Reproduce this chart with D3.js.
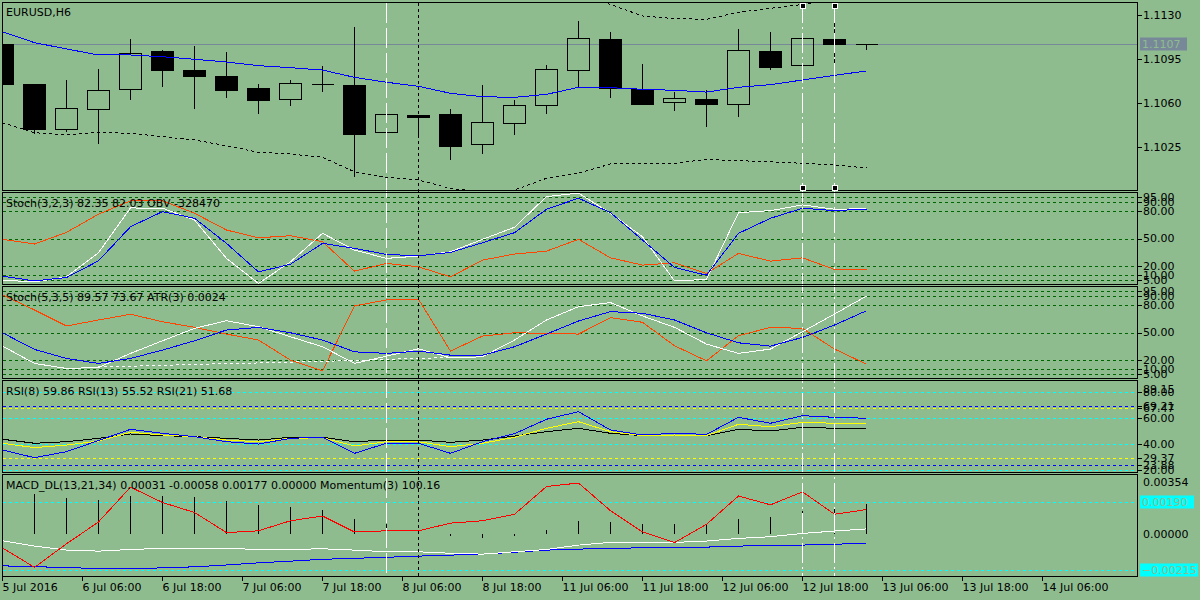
<!DOCTYPE html>
<html><head><meta charset="utf-8">
<script src="https://cdn.jsdelivr.net/npm/d3@7"></script>
<style>
html,body{margin:0;padding:0;background:#8fbc8f;}
svg{display:block;font-family:"DejaVu Sans",sans-serif;font-size:11px;}
</style></head><body>
<svg id="c" width="1200" height="600"></svg>
<script>
// ---------------- DATA ----------------
const openP  = [1.11069,1.10751,1.10393,1.10552,1.10711,1.11014,1.10862,1.10815,1.10719,1.10632,1.10751,1.10743,1.10369,1.10508,1.10512,1.10274,1.10441,1.10584,1.10862,1.11109,1.10711,1.10608,1.10632,1.10592,1.11014,1.10902,1.11109,1.11069];
const highP  = [1.11090,1.10759,1.10791,1.10878,1.11117,1.11030,1.11061,1.11014,1.10759,1.10791,1.10902,1.11212,1.10600,1.10508,1.10560,1.10751,1.10632,1.10910,1.11260,1.11173,1.10918,1.10695,1.10711,1.11197,1.11173,1.11157,1.11292,1.11069];
const lowP   = [1.10720,1.10361,1.10377,1.10282,1.10632,1.10735,1.10560,1.10648,1.10520,1.10584,1.10695,1.10019,1.10298,1.10329,1.10155,1.10202,1.10353,1.10520,1.10735,1.10648,1.10592,1.10544,1.10417,1.10497,1.10870,1.10902,1.10878,1.11030];
const closeP = [1.10751,1.10393,1.10560,1.10703,1.10998,1.10862,1.10815,1.10703,1.10624,1.10759,1.10751,1.10353,1.10512,1.10492,1.10258,1.10449,1.10584,1.10870,1.11117,1.10719,1.10592,1.10640,1.10592,1.11022,1.10886,1.11117,1.11069,1.11069];
const maMid  = [1.11167,1.11080,1.11030,1.10982,1.10982,1.10968,1.10948,1.10926,1.10897,1.10881,1.10862,1.10804,1.10765,1.10733,1.10677,1.10650,1.10645,1.10669,1.10725,1.10722,1.10709,1.10701,1.10687,1.10725,1.10746,1.10783,1.10820,1.10855];
const bandLow= [1.10443,1.10364,1.10345,1.10367,1.10359,1.10332,1.10306,1.10260,1.10208,1.10194,1.10168,1.10053,1.10009,1.09987,1.09921,1.09892,1.09908,1.10001,1.10041,1.10115,1.10120,1.10120,1.10152,1.10141,1.10133,1.10120,1.10107,1.10083];
const bandUp = [null,null,null,null,null,null,null,null,null,null,null,null,null,null,null,null,null,null,1.11450,1.11384,1.11292,1.11271,1.11266,1.11321,1.11353,1.11384,1.11419,1.11435];
const lastPrice = 1.1107;
const priceTicks = [1.1130,1.1095,1.1060,1.1025];

const st1Main   = [4.7,2.8,8.3,34.5,83.2,82.9,70.1,28.4,1.1,24.7,55.6,37.4,28.4,30.9,35.6,49.1,62.2,95.6,99.3,77.5,51.9,3.9,5.5,78.1,80.3,86.5,81.8,82.35];
const st1Signal = [9.1,3.9,7.6,25.7,62.8,79.2,72.0,44.7,13.7,22.1,44.7,39.3,32.7,31.2,34.9,45.4,56.3,81.8,93.8,78.1,48.3,18.5,10.1,55.6,72.0,82.9,80.3,82.03];
const obvNorm   = [49.1,44.0,56.7,76.4,90.9,90.9,77.5,59.2,50.8,53.0,46.5,14.5,22.9,19.2,8.3,26.5,33.1,36.3,49.1,29.0,21.1,23.6,12.0,33.8,25.4,29.0,16.4,16.4];

const st2Main   = [35.2,16.4,10.9,12.0,27.3,41.0,54.5,62.8,56.3,45.4,34.5,16.4,24.3,32.3,22.5,23.6,41.8,63.6,78.1,82.5,68.0,55.6,37.4,27.3,32.0,50.8,70.1,89.57];
const st2Signal = [49.7,31.6,21.8,16.4,21.8,30.9,41.0,52.7,55.6,49.7,41.8,29.0,27.3,29.8,25.4,25.4,34.5,48.3,62.5,72.7,70.9,63.6,49.7,38.8,35.2,44.7,58.1,73.67];
const st2Dash   = [null,null,null,12.7,13.4,14.3,15.3,16.1,16.9,17.8,18.7,19.6,20.7,22.1,22.5,null,null,null,null,null,null,null,null,null,null,null,null,null];
const atrNorm   = [90.9,74.5,57.1,63.6,69.8,61.7,55.6,48.3,41.8,20.0,8.3,78.9,85.4,86.2,29.8,46.1,49.7,49.1,48.3,66.1,61.1,35.6,19.2,46.5,55.6,54.5,32.0,15.6];
const stochLevels = [95,90,80,50,20,10,5];

const rsi8  = [35.3,29.3,34.0,42.6,51.3,48.2,45.6,41.7,39.9,44.3,45.3,32.7,40.5,40.5,32.7,41.7,47.9,59.1,65.0,50.8,46.9,48.2,47.4,60.6,56.0,61.9,60.6,59.86];
const rsi13 = [40.5,37.1,39.1,42.2,49.0,46.9,45.6,43.0,41.7,44.3,44.8,38.4,41.7,41.7,37.8,40.5,45.1,52.1,57.2,49.5,46.4,46.9,46.4,55.2,53.3,56.7,56.0,55.52];
const rsi21 = [43.6,40.5,41.7,44.3,47.7,46.4,45.6,44.3,43.0,45.1,45.1,41.7,43.0,43.0,41.2,43.0,46.1,49.5,52.1,48.2,46.4,46.9,46.4,51.3,50.0,52.9,52.1,51.68];
const rsiCyanLevels   = [80,60,40,20];
const rsiBlueLevels   = [69.21,23.88];
const rsiYellowLevels = [67.47,29.37];
const rsiMaxLabel = 89.15;

const macdHist   = [0.00235,0.00239,0.00215,0.00203,0.00227,0.00227,0.00220,0.00197,0.00173,0.00163,0.00144,0.00090,0.00060,0.00006,-0.00010,-0.00022,-0.00012,0.00024,0.00080,0.00074,0.00060,0.00060,0.00060,0.00090,0.00103,0.00138,0.00160,0.00177];
const macdMain   = [-0.00040,-0.00072,-0.00096,-0.00102,-0.00092,-0.00086,-0.00086,-0.00086,-0.00092,-0.00092,-0.00088,-0.00096,-0.00106,-0.00106,-0.00115,-0.00120,-0.00106,-0.00092,-0.00066,-0.00050,-0.00050,-0.00050,-0.00042,-0.00026,-0.00016,0.00004,0.00018,0.00031];
const macdSignal = [-0.00190,-0.00196,-0.00199,-0.00208,-0.00208,-0.00202,-0.00196,-0.00185,-0.00172,-0.00162,-0.00151,-0.00145,-0.00139,-0.00132,-0.00126,-0.00120,-0.00109,-0.00096,-0.00090,-0.00086,-0.00082,-0.00080,-0.00078,-0.00072,-0.00068,-0.00066,-0.00060,-0.00058];
const momentum   = [99.51,99.18,99.58,99.95,100.54,100.28,100.11,99.77,99.80,99.97,100.05,99.78,99.80,99.80,99.93,99.97,100.08,100.55,100.61,100.14,99.78,99.60,99.91,100.39,100.24,100.46,100.08,100.16];
const macdLevels = [0.00190,-0.00215];
const macdMaxLabel = 0.00354;

const timeLabels  = ["5 Jul 2016","6 Jul 06:00","6 Jul 18:00","7 Jul 06:00","7 Jul 18:00","8 Jul 06:00","8 Jul 18:00","11 Jul 06:00","11 Jul 18:00","12 Jul 06:00","12 Jul 18:00","13 Jul 06:00","13 Jul 18:00","14 Jul 06:00"];
const timeTickIdx = [0,2.5,5,7.5,10,12.5,15,17.5,20,22.5,25,27.5,30,32.5];
const whiteVLines = [12,25,26];
const blackVLines = [13];
const handleLines = [25,26];

const headers = ["EURUSD,H6",
  "Stoch(3,2,3) 82.35 82.03 OBV -328470",
  "Stoch(5,3,5) 89.57 73.67 ATR(3) 0.0024",
  "RSI(8) 59.86 RSI(13) 55.52 RSI(21) 51.68",
  "MACD_DL(13,21,34) 0.00031 -0.00058 0.00177 0.00000 Momentum(3) 100.16"];

// ---------------- LAYOUT ----------------
const BG = "#8fbc8f", LVL = "#006400";
const L = 2.5, R = 1137.5;
const panels = [
  {top:2.5,   bottom:190.5},
  {top:192.5, bottom:284.5},
  {top:286.5, bottom:378.5},
  {top:380.5, bottom:472.5},
  {top:474.5, bottom:576.5}
];
const svg = d3.select("#c");
svg.append("rect").attr("width",1200).attr("height",600).attr("fill",BG);
const defs = svg.append("defs");
const crisp = v => Math.round(v) + 0.5;

const x = d3.scaleLinear().domain([0,27]).range([2.5,866.5]);
const yMain = d3.scaleLinear().domain([1.1025,1.1130]).range([147,15]);
const yS1 = d3.scaleLinear().domain([0,100]).range([panels[1].bottom,panels[1].top]);
const yS2 = d3.scaleLinear().domain([0,100]).range([panels[2].bottom,panels[2].top]);
const yR  = d3.scaleLinear().domain([20,80]).range([469.7,392.3]);
const yM  = d3.scaleLinear().domain([-0.00215,0.0019]).range([570,502.3]);
const yMom= d3.scaleLinear().domain([99,101]).range([578,460]);

function panelG(i){
  const p = panels[i];
  defs.append("clipPath").attr("id","cp"+i).append("rect")
    .attr("x",L).attr("y",p.top).attr("width",R-L).attr("height",p.bottom-p.top);
  return svg.append("g").attr("clip-path",`url(#cp${i})`);
}
function hLevel(g, y, color){
  g.append("line").attr("x1",L).attr("x2",R).attr("y1",crisp(y)).attr("y2",crisp(y))
    .attr("stroke",color).attr("stroke-width",1).attr("stroke-dasharray","3,3")
    .attr("shape-rendering","crispEdges");
}
function series(g, data, scale, color, dash){
  const gen = d3.line().defined(d => d != null).x((d,i) => x(i)).y(d => scale(d));
  const p = g.append("path").attr("d",gen(data)).attr("fill","none")
    .attr("stroke",color).attr("stroke-width",1).attr("shape-rendering","crispEdges");
  if (dash) p.attr("stroke-dasharray",dash);
}
function header(g, i){
  g.append("text").attr("x",6).attr("y",panels[i].top + (i===0?13.5:14.5)).attr("fill","#000").text(headers[i]);
}
const axisG = svg.append("g");
function axisLabel(y, txt, tick){
  if (tick) axisG.append("line").attr("x1",R).attr("x2",R+4).attr("y1",crisp(y)).attr("y2",crisp(y))
      .attr("stroke","#000").attr("shape-rendering","crispEdges");
  axisG.append("text").attr("x",1143).attr("y",y).attr("dy","0.36em").attr("fill","#000").text(txt);
}
function boxLabel(y, txt, color, w){
  axisG.append("rect").attr("x",1140).attr("y",Math.round(y)-6.5).attr("width",w).attr("height",13).attr("fill",color);
  axisG.append("text").attr("x",1142).attr("y",y).attr("dy","0.36em").attr("fill",BG).text(txt);
}

// ---------------- MAIN PANEL ----------------
{
  const g = panelG(0);
  const yl = crisp(yMain(lastPrice));
  g.append("line").attr("x1",L).attr("x2",R).attr("y1",yl).attr("y2",yl)
    .attr("stroke","#778899").attr("shape-rendering","crispEdges");
  for (let i=0;i<openP.length;i++){
    const cx = x(i);
    const yo = yMain(openP[i]), yc = yMain(closeP[i]);
    const t = crisp(Math.min(yo,yc)), b = crisp(Math.max(yo,yc));
    const yh = crisp(yMain(highP[i])), ylo = crisp(yMain(lowP[i]));
    const bear = closeP[i] < openP[i];
    if (yh < t) g.append("line").attr("x1",cx).attr("x2",cx).attr("y1",yh).attr("y2",t).attr("stroke","#000").attr("shape-rendering","crispEdges");
    if (ylo > b) g.append("line").attr("x1",cx).attr("x2",cx).attr("y1",b).attr("y2",ylo).attr("stroke","#000").attr("shape-rendering","crispEdges");
    if (b - t < 1){
      g.append("line").attr("x1",cx-11).attr("x2",cx+11).attr("y1",t).attr("y2",t).attr("stroke","#000").attr("shape-rendering","crispEdges");
    } else {
      g.append("rect").attr("x",cx-11).attr("y",t).attr("width",22).attr("height",b-t)
        .attr("fill",bear?"#000":"none").attr("stroke","#000").attr("shape-rendering","crispEdges");
    }
  }
  series(g, maMid, yMain, "#0000ff");
  series(g, bandLow, yMain, "#000", "3,3");
  series(g, bandUp, yMain, "#000", "3,3");
  header(g,0);
  priceTicks.forEach(v => axisLabel(yMain(v), d3.format(".4f")(v), true));
  boxLabel(yMain(lastPrice), d3.format(".4f")(lastPrice), "#778899", 47);
}

// ---------------- STOCH 1 ----------------
{
  const g = panelG(1);
  stochLevels.forEach(v => hLevel(g, yS1(v), LVL));
  series(g, obvNorm, yS1, "#ff4500");
  series(g, st1Main, yS1, "#ffffff");
  series(g, st1Signal, yS1, "#0000ff");
  header(g,1);
  stochLevels.forEach(v => axisLabel(yS1(v), d3.format(".2f")(v), true));
}
// ---------------- STOCH 2 ----------------
{
  const g = panelG(2);
  stochLevels.forEach(v => hLevel(g, yS2(v), LVL));
  series(g, atrNorm, yS2, "#ff4500");
  series(g, st2Dash, yS2, "#ffffff", "3,3");
  series(g, st2Main, yS2, "#ffffff");
  series(g, st2Signal, yS2, "#0000ff");
  header(g,2);
  stochLevels.forEach(v => axisLabel(yS2(v), d3.format(".2f")(v), true));
}
// ---------------- RSI ----------------
{
  const g = panelG(3);
  rsiCyanLevels.forEach(v => hLevel(g, yR(v), "#00ffff"));
  rsiBlueLevels.forEach(v => hLevel(g, yR(v), "#0000ff"));
  rsiYellowLevels.forEach(v => hLevel(g, yR(v), "#ffff00"));
  series(g, rsi21, yR, "#000000");
  series(g, rsi13, yR, "#ffff00");
  series(g, rsi8, yR, "#0000ff");
  header(g,3);
  [...rsiCyanLevels, ...rsiBlueLevels, ...rsiYellowLevels].forEach(v => axisLabel(yR(v), d3.format(".2f")(v), true));
  axisLabel(panels[3].top + 9, d3.format(".2f")(rsiMaxLabel), false);
}
// ---------------- MACD ----------------
{
  const g = panelG(4);
  macdLevels.forEach(v => hLevel(g, yM(v), "#00ffff"));
  macdHist.forEach((v,i) => {
    g.append("line").attr("x1",x(i)).attr("x2",x(i)).attr("y1",crisp(yM(0))-0.5).attr("y2",Math.round(yM(v)))
      .attr("stroke","#000").attr("shape-rendering","crispEdges");
  });
  series(g, macdSignal, yM, "#0000ff");
  series(g, macdMain, yM, "#ffffff");
  series(g, momentum, yMom, "#ff0000");
  header(g,4);
  axisLabel(panels[4].top + 7.5, d3.format(".5f")(macdMaxLabel), false);
  axisLabel(yM(0), d3.format(".5f")(0), false);
  boxLabel(yM(macdLevels[0]), d3.format(".5f")(macdLevels[0]), "#00ffff", 54);
  boxLabel(yM(macdLevels[1]), d3.format(".5f")(macdLevels[1]), "#00ffff", 58);
}

// ---------------- VERTICAL LINES ----------------
whiteVLines.forEach(i => {
  svg.append("line").attr("x1",x(i)).attr("x2",x(i)).attr("y1",panels[0].top).attr("y2",panels[4].bottom)
    .attr("stroke","#fff").attr("stroke-dasharray", i===12 ? "20,5" : "20,4,2,4").attr("shape-rendering","crispEdges");
});
blackVLines.forEach(i => {
  svg.append("line").attr("x1",x(i)).attr("x2",x(i)).attr("y1",panels[0].top).attr("y2",panels[4].bottom)
    .attr("stroke","#000").attr("stroke-dasharray","3,3").attr("shape-rendering","crispEdges");
});

// ---------------- BORDERS ----------------
panels.forEach(p => {
  svg.append("rect").attr("x",L).attr("y",p.top).attr("width",R-L).attr("height",p.bottom-p.top)
    .attr("fill","none").attr("stroke","#000").attr("shape-rendering","crispEdges");
});
handleLines.forEach(i => {
  [panels[0].top+3, panels[0].bottom-3].forEach(yy => {
    svg.append("rect").attr("x",x(i)-2.5).attr("y",yy-2.5).attr("width",5).attr("height",5)
      .attr("fill","#000").attr("stroke","#fff").attr("stroke-width",1).attr("shape-rendering","crispEdges");
  });
});

// ---------------- TIME AXIS ----------------
timeTickIdx.forEach((t,k) => {
  const tx = Math.floor(x(t)) + 0.5;
  svg.append("line").attr("x1",tx).attr("x2",tx).attr("y1",panels[4].bottom).attr("y2",panels[4].bottom+4)
    .attr("stroke","#000").attr("shape-rendering","crispEdges");
  svg.append("text").attr("x",tx).attr("y",591).attr("fill","#000").text(timeLabels[k]);
});
</script>
</body></html>
